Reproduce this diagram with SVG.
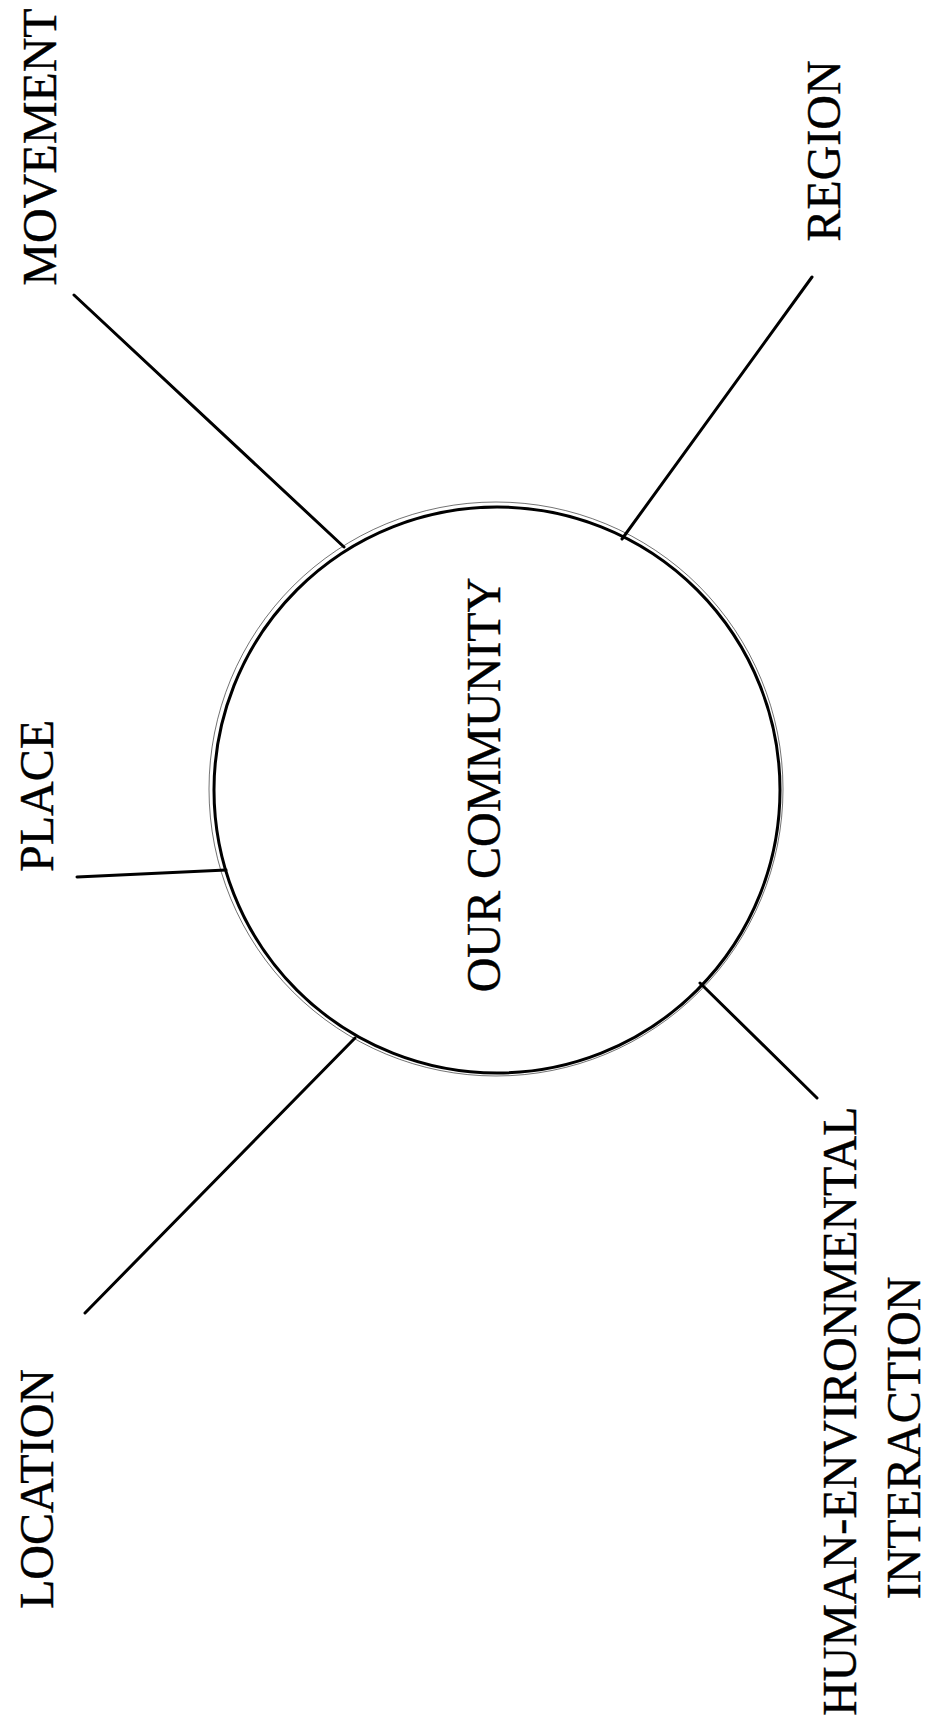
<svg xmlns="http://www.w3.org/2000/svg" width="931" height="1725" viewBox="0 0 931 1725">
<style>
.lbl{font-family:"Liberation Serif","Times New Roman",serif;fill:#000;font-size:48px;stroke:#000;stroke-width:0.4}
.ln{stroke:#000;stroke-width:3;fill:none;stroke-linecap:round}
</style>
<rect width="931" height="1725" fill="#fff"/>
<g id="connectors">
<line class="ln" x1="74" y1="295" x2="344" y2="547"/>
<line class="ln" x1="812" y1="277" x2="622" y2="539"/>
<line class="ln" x1="77" y1="877" x2="226" y2="870"/>
<line class="ln" x1="85" y1="1313" x2="355" y2="1038"/>
<line class="ln" x1="817" y1="1098" x2="700" y2="983"/>
</g>
<g id="center">
<circle cx="497" cy="790" r="283" fill="none" stroke="#000" stroke-width="3"/>
<circle cx="496" cy="789" r="287" fill="none" stroke="#000" stroke-width="1" opacity="0.55"/>
<text class="lbl" font-size="45" text-anchor="middle" transform="translate(500,785) rotate(-90)">OUR COMMUNITY</text>
</g>
<g id="movement"><text class="lbl" text-anchor="middle" transform="translate(56,147) rotate(-90)">MOVEMENT</text></g>
<g id="region"><text class="lbl" text-anchor="middle" transform="translate(840,151) rotate(-90)">REGION</text></g>
<g id="place"><text class="lbl" text-anchor="middle" transform="translate(53,796) rotate(-90)">PLACE</text></g>
<g id="location"><text class="lbl" font-size="47" text-anchor="middle" transform="translate(53,1489) rotate(-90)">LOCATION</text></g>
<g id="human-environmental">
<text class="lbl" font-size="47" text-anchor="start" transform="translate(856,1716) rotate(-90)">HUMAN-ENVIRONMENTAL</text>
<text class="lbl" font-size="49" text-anchor="middle" transform="translate(920,1438) rotate(-90)">INTERACTION</text>
</g>
</svg>
